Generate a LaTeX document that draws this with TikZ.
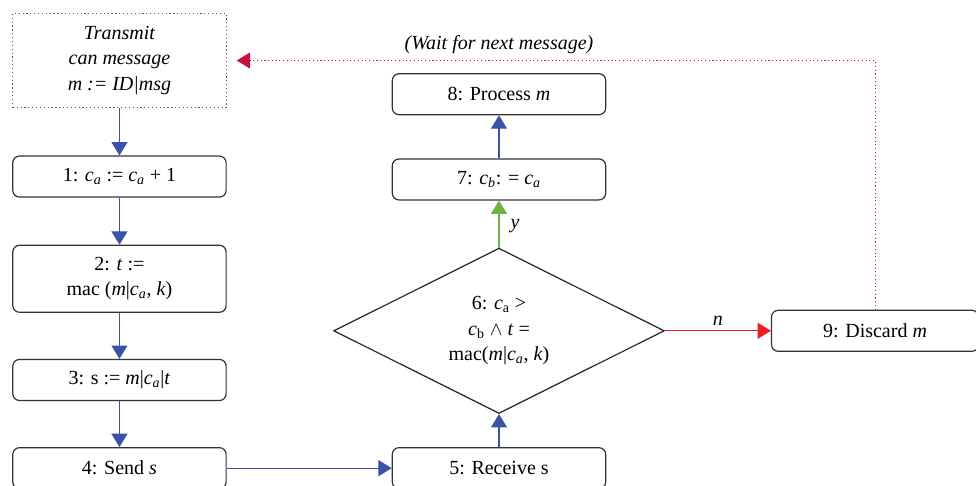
\documentclass[tikz,border=0pt]{standalone}
\usepackage{fontspec}
\setmainfont{Liberation Serif}
\usetikzlibrary{arrows.meta,positioning,shapes.geometric}
\definecolor{flowblue}{RGB}{58,83,164}
\definecolor{flowgreen}{RGB}{109,179,63}
\definecolor{flowred}{RGB}{237,28,36}
\definecolor{waitred}{RGB}{200,16,60}

\begin{document}
\begin{tikzpicture}[
  font=\fontsize{15}{19}\selectfont,
  node distance=35.25pt,
  stepbox/.style={draw=black!80, line width=0.9pt, rounded corners=5pt, align=center, minimum width=160pt, minimum height=30.75pt, inner sep=2pt},
  startbox/.style={draw=black!65, dotted, line width=0.9pt, align=center, minimum width=160pt, minimum height=71pt, font=\fontsize{15}{19}\selectfont\itshape},
  test/.style={draw=black!85, line width=0.9pt, diamond, aspect=2, align=center, minimum width=248pt, minimum height=124pt, inner sep=0pt},
  answer/.style={text=black, font=\fontsize{15}{19}\selectfont\itshape},
  arrow/.style={-{Triangle[width=12pt,length=10pt]}, line width=0.8pt, flowblue},
  yes/.style={arrow, flowgreen},
  no/.style={arrow, flowred},
  wait/.style={-{Triangle[width=12pt,length=10pt]}, dotted, line width=0.8pt, waitred, shorten >=7.5pt}
]
\useasboundingbox (0,0) rectangle (732pt,-364.5pt);

\node[startbox] (transmit) at (89.6pt,-45.4pt) {Transmit\\can message\\m := ID|msg};
\node[stepbox, below=of transmit] (incr) {1: \textit{c\textsubscript{a}} := \textit{c\textsubscript{a}} + 1};
\node[stepbox, minimum height=50.25pt, below=of incr] (mac) {2: \textit{t} :=\\mac (\textit{m}|\textit{c\textsubscript{a}}, \textit{k})};
\node[stepbox, below=34.5pt of mac] (pack) {3: s := \textit{m}|\textit{c\textsubscript{a}}|\textit{t}};
\node[stepbox, below=34.5pt of pack] (send) {4: Send \textit{s}};

\node[stepbox, right=123.75pt of send] (recv) {5: Receive s};
\node[test, above=24.75pt of recv] (check) {6: \textit{c}\textsubscript{a} >\\\textit{c}\textsubscript{b} $\wedge$ \textit{t} =\\mac(\textit{m}|\textit{c\textsubscript{a}}, \textit{k})};
\node[stepbox, above=of check] (update) {7: \textit{c\textsubscript{b}}: = \textit{c\textsubscript{a}}};
\node[stepbox, above=32.25pt of update] (proc) {8: Process \textit{m}};
\node[inner sep=0pt, above=14pt of proc, font=\fontsize{15}{19}\selectfont\itshape] (wait) {(Wait for next message)};

\node[stepbox, minimum width=155.25pt, right=79.5pt of check] (discard) {9: Discard \textit{m}};

\draw[arrow] (transmit) -- (incr);
\draw[arrow] (incr) -- (mac);
\draw[arrow] (mac) -- (pack);
\draw[arrow] (pack) -- (send);
\draw[arrow] (send) -- (recv);
\draw[arrow] (recv) -- (check);
\draw[yes] (check) -- node[answer, right=5pt, pos=0.45] {y} (update);
\draw[arrow] (update) -- (proc);
\draw[no] (check) -- node[answer, above] {n} (discard);
\draw[wait] (discard) |- (transmit);
\end{tikzpicture}
\end{document}
